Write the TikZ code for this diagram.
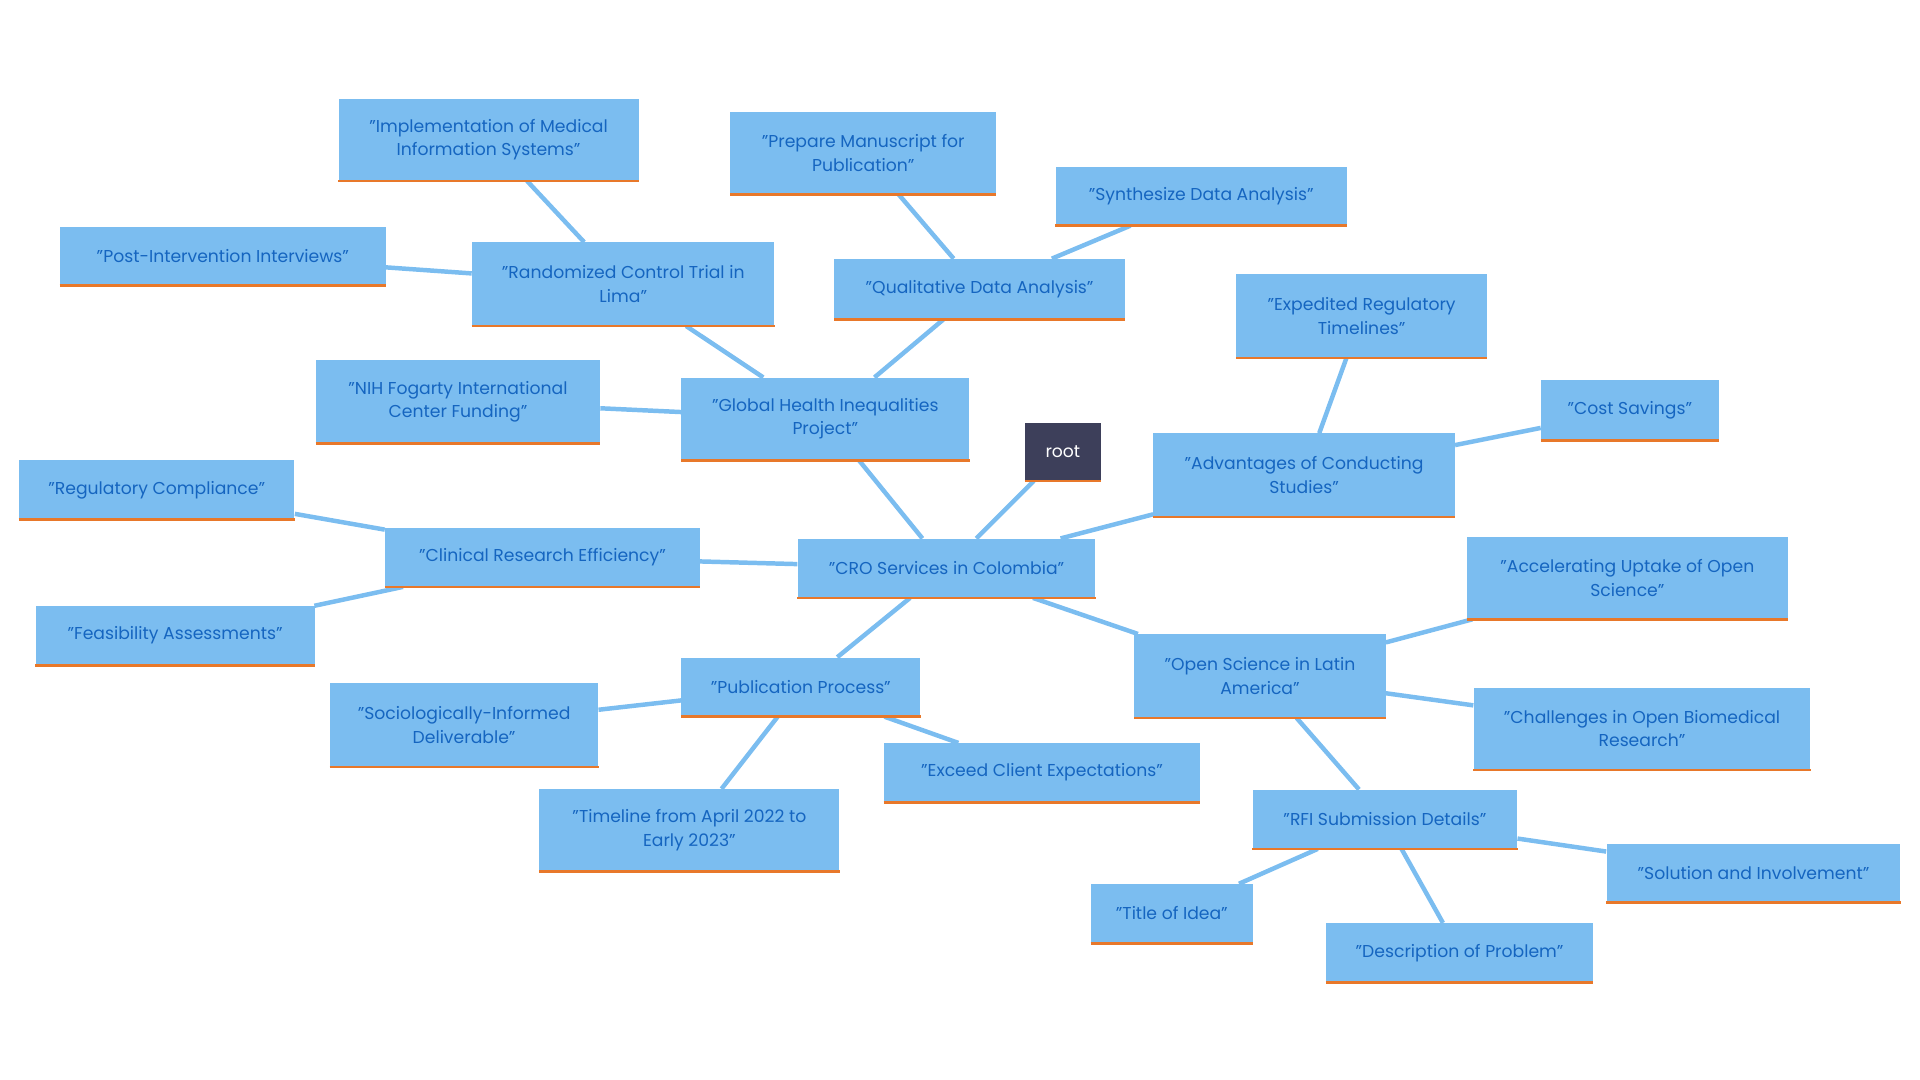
\documentclass[tikz,border=0pt]{standalone}
\usepackage{fontspec}
\setmainfont{Poppins}
\usetikzlibrary{backgrounds}
\definecolor{boxblue}{HTML}{7BBDF0}
\definecolor{textblue}{HTML}{1565C0}
\definecolor{lineorange}{HTML}{E8782A}
\definecolor{rootdark}{HTML}{3D3F5A}
\begin{document}
\begin{tikzpicture}[x=0.025cm, y=-0.025cm, idea/.style={rectangle,fill=boxblue,text=textblue,align=center,inner sep=0pt,font=\fontsize{10}{13.5}\selectfont,append after command={(\tikzlastnode.south west) edge[draw=lineorange,line width=1.6pt] (\tikzlastnode.south east)}}]%
\useasboundingbox (0,0) rectangle (1568,882);
\begin{scope}
\node[rectangle,fill=rootdark,text=white,inner sep=0pt,minimum width=62*0.025cm,minimum height=47*0.025cm,font=\fontsize{10}{13.5}\selectfont,append after command={(\tikzlastnode.south west) edge[draw=lineorange,line width=1.6pt] (\tikzlastnode.south east)}] (root) at (868,369) {root};
\node[idea,minimum width=243*0.025cm,minimum height=48*0.025cm] (cro) at (773,464) {"CRO Services in Colombia"};
\node[idea,minimum width=235*0.025cm,minimum height=67*0.025cm] (ghi) at (674,342) {"Global Health Inequalities\\Project"};
\node[idea,minimum width=247*0.025cm,minimum height=68*0.025cm] (rct) at (509,232) {"Randomized Control Trial in\\Lima"};
\node[idea,minimum width=245*0.025cm,minimum height=67*0.025cm] (mis) at (399,114) {"Implementation of Medical\\Information Systems"};
\node[idea,minimum width=266*0.025cm,minimum height=48*0.025cm] (post) at (182,209) {"Post-Intervention Interviews"};
\node[idea,minimum width=232*0.025cm,minimum height=68*0.025cm] (nih) at (374,328) {"NIH Fogarty International\\Center Funding"};
\node[idea,minimum width=237*0.025cm,minimum height=49*0.025cm] (qda) at (800,236) {"Qualitative Data Analysis"};
\node[idea,minimum width=217*0.025cm,minimum height=67*0.025cm] (prep) at (705,125) {"Prepare Manuscript for\\Publication"};
\node[idea,minimum width=238*0.025cm,minimum height=48*0.025cm] (synth) at (981,160) {"Synthesize Data Analysis"};
\node[idea,minimum width=246*0.025cm,minimum height=68*0.025cm] (adv) at (1065,388) {"Advantages of Conducting\\Studies"};
\node[idea,minimum width=205*0.025cm,minimum height=68*0.025cm] (exp) at (1112,258) {"Expedited Regulatory\\Timelines"};
\node[idea,minimum width=145*0.025cm,minimum height=49*0.025cm] (cost) at (1331,335) {"Cost Savings"};
\node[idea,minimum width=257*0.025cm,minimum height=48*0.025cm] (cre) at (443,455) {"Clinical Research Efficiency"};
\node[idea,minimum width=225*0.025cm,minimum height=48*0.025cm] (reg) at (128,400) {"Regulatory Compliance"};
\node[idea,minimum width=228*0.025cm,minimum height=48*0.025cm] (feas) at (143,519) {"Feasibility Assessments"};
\node[idea,minimum width=195*0.025cm,minimum height=48*0.025cm] (pub) at (654,561) {"Publication Process"};
\node[idea,minimum width=219*0.025cm,minimum height=68*0.025cm] (soc) at (379,592) {"Sociologically-Informed\\Deliverable"};
\node[idea,minimum width=245*0.025cm,minimum height=67*0.025cm] (time) at (563,678) {"Timeline from April 2022 to\\Early 2023"};
\node[idea,minimum width=258*0.025cm,minimum height=48*0.025cm] (exc) at (851,631) {"Exceed Client Expectations"};
\node[idea,minimum width=205*0.025cm,minimum height=68*0.025cm] (osl) at (1029,552) {"Open Science in Latin\\America"};
\node[idea,minimum width=262*0.025cm,minimum height=67*0.025cm] (acc) at (1329,472) {"Accelerating Uptake of Open\\Science"};
\node[idea,minimum width=275*0.025cm,minimum height=67*0.025cm] (chal) at (1341,595) {"Challenges in Open Biomedical\\Research"};
\node[idea,minimum width=216*0.025cm,minimum height=48*0.025cm] (rfi) at (1131,669) {"RFI Submission Details"};
\node[idea,minimum width=240*0.025cm,minimum height=48*0.025cm] (sol) at (1432,713) {"Solution and Involvement"};
\node[idea,minimum width=132*0.025cm,minimum height=48*0.025cm] (title) at (957,746) {"Title of Idea"};
\node[idea,minimum width=218*0.025cm,minimum height=48*0.025cm] (desc) at (1192,778) {"Description of Problem"};
\end{scope}
\begin{scope}[on background layer,every edge/.style={draw=boxblue,line width=2.6pt}]
\draw (cro) edge (root);
\draw (cro) edge (ghi);
\draw (cro) edge (adv);
\draw (cro) edge (cre);
\draw (cro) edge (pub);
\draw (cro) edge (osl);
\draw (ghi) edge (rct);
\draw (ghi) edge (nih);
\draw (ghi) edge (qda);
\draw (rct) edge (mis);
\draw (rct) edge (post);
\draw (qda) edge (prep);
\draw (qda) edge (synth);
\draw (adv) edge (exp);
\draw (adv) edge (cost);
\draw (cre) edge (reg);
\draw (cre) edge (feas);
\draw (pub) edge (soc);
\draw (pub) edge (time);
\draw (pub) edge (exc);
\draw (osl) edge (acc);
\draw (osl) edge (chal);
\draw (osl) edge (rfi);
\draw (rfi) edge (sol);
\draw (rfi) edge (title);
\draw (rfi) edge (desc);
\end{scope}
\end{tikzpicture}
\end{document}
